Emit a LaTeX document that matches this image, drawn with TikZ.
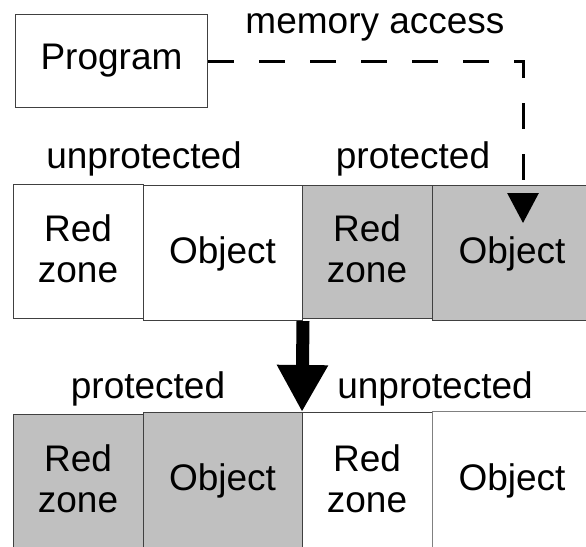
\documentclass[tikz,border=0pt]{standalone}
\usepackage{fontspec}
\setmainfont{Liberation Sans}
\usetikzlibrary{arrows.meta}
\definecolor{boxgrey}{HTML}{C0C0C0}
\definecolor{edgegrey}{HTML}{404040}
\tikzset{
  memcell/.style={draw=edgegrey, line width=1pt, anchor=north west, inner sep=0pt},
  shaded/.style={memcell, fill=boxgrey},
  plain/.style={memcell, fill=white},
  txt/.style={font=\fontsize{37}{41}\selectfont, inner sep=0pt},
  rztxt/.style={txt, align=center, anchor=center},
  lbl/.style={txt, anchor=base},
}
\begin{document}
\begin{tikzpicture}[x=1pt,y=-1pt]
\useasboundingbox[fill=white] (0,0) rectangle (586,546);
% program
\node[plain, minimum width=192pt, minimum height=93pt, font=\fontsize{37}{41}\selectfont] (prog) at (15,14) {Program};
\node[lbl] (mem) at (375,33) {memory access};
% top row
\node[lbl] (unprotA) at (144,168) {unprotected};
\node[lbl] (protA) at (413,168) {protected};
\node[plain, minimum width=130pt, minimum height=134pt] (rz1) at (13,184) {};
\node[plain, minimum width=159pt, minimum height=135pt] (ob1) at (143,185) {};
\node[shaded, minimum width=130pt, minimum height=133pt] (rz2) at (302,185) {};
\node[shaded, minimum width=155pt, minimum height=135pt] (ob2) at (432,185) {};
\node[rztxt] (rz1t) at (78,249) {Red\\zone};
\node[lbl] (ob1t) at (222.5,263) {Object};
\node[rztxt] (rz2t) at (367,249) {Red\\zone};
\node[lbl] (ob2t) at (512,263) {Object};
% bottom row
\node[lbl] (protB) at (148,398) {protected};
\node[lbl] (unprotB) at (435,398) {unprotected};
\node[shaded, minimum width=130pt, minimum height=134pt] (b1) at (13,414) {};
\node[shaded, minimum width=159pt, minimum height=136pt] (b2) at (143,412) {};
\node[plain, minimum width=130pt, minimum height=136pt] (b3) at (302,412) {};
\node[plain, draw=black!50, minimum width=155pt, minimum height=137pt] (b4) at (432,411) {};
\node[rztxt] (b1t) at (78,479) {Red\\zone};
\node[lbl] (b2t) at (222.5,490) {Object};
\node[rztxt] (b3t) at (367,479) {Red\\zone};
\node[lbl] (b4t) at (512,490) {Object};
% memory access arrow
\coordinate (acc) at (523,223);
\draw[line width=3pt, dash pattern=on 26pt off 25pt, -{Triangle[length=30pt,width=31pt]}] (prog.east) -| (acc);
% move arrow
\draw[line width=13pt, -{Triangle[length=47pt,width=48pt]}] (ob1.south east) -- (b3.north west);
\end{tikzpicture}
\end{document}
